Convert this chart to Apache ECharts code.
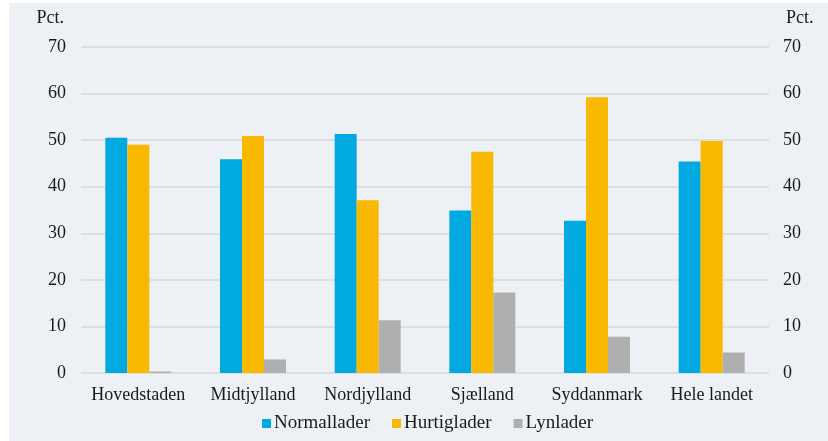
<!DOCTYPE html>
<html>
<head>
<meta charset="utf-8">
<script src="https://cdn.jsdelivr.net/npm/echarts@6/dist/echarts.min.js"></script>
<style>
  body { margin: 0; background: #fff; }
  #bg { position: absolute; left: 9px; top: 3px; width: 819px; height: 438px; background: #edf0f4; }
  #charts { position: absolute; left: 0; top: 0; width: 828px; height: 441px; }
</style>
</head>
<body>
<div id="bg"></div>
<div id="charts"></div>
<script>
var regioner = ['Hovedstaden', 'Midtjylland', 'Nordjylland', 'Sjælland', 'Syddanmark', 'Hele landet'];
var normallader = [50.5, 45.9, 51.3, 34.9, 32.7, 45.4];
var hurtiglader = [49.0, 50.9, 37.1, 47.5, 59.2, 49.8];
var lynlader = [0.3, 2.9, 11.3, 17.3, 7.8, 4.4];

var font = 'Liberation Serif';
var myChart = echarts.init(document.getElementById('charts'));

function yAkse(pos) {
  var venstre = pos === 'left';
  return {
    type: 'value', position: pos, min: 0, max: 70, interval: 10,
    name: 'Pct.', nameGap: 20,
    nameTextStyle: { color: '#1a1a1a', fontFamily: font, fontSize: 18, align: venstre ? 'right' : 'left', padding: venstre ? [0, 17, 0, 0] : [0, 0, 0, 17] },
    axisLine: { show: false }, axisTick: { show: false },
    axisLabel: { color: '#1a1a1a', fontFamily: font, fontSize: 18, margin: venstre ? 15 : 14 },
    splitLine: { show: venstre, lineStyle: { color: '#d6d8db', width: 1.5 } }
  };
}

function serie(navn, data, farve) {
  return {
    name: navn, type: 'bar', data: data, barWidth: 22, barGap: '0%',
    itemStyle: { color: farve }
  };
}

myChart.setOption({
  animation: false,
  textStyle: { fontFamily: font },
  grid: { left: 81, right: 59, top: 47, bottom: 68 },
  legend: {
    bottom: 3, left: 257, itemWidth: 9, itemHeight: 9, itemGap: 22,
    icon: 'rect',
    textStyle: { color: '#1a1a1a', fontFamily: font, fontSize: 19, padding: [0, 0, 0, -2] }
  },
  xAxis: {
    type: 'category', data: regioner,
    axisLine: { show: false }, axisTick: { show: false },
    axisLabel: { interval: 0, color: '#1a1a1a', fontFamily: font, fontSize: 18, margin: 13 }
  },
  yAxis: [yAkse('left'), yAkse('right')],
  series: [
    serie('Normallader', normallader, '#00a9e0'),
    serie('Hurtiglader', hurtiglader, '#f8b900'),
    serie('Lynlader', lynlader, '#aeafae')
  ]
});
</script>
</body>
</html>
